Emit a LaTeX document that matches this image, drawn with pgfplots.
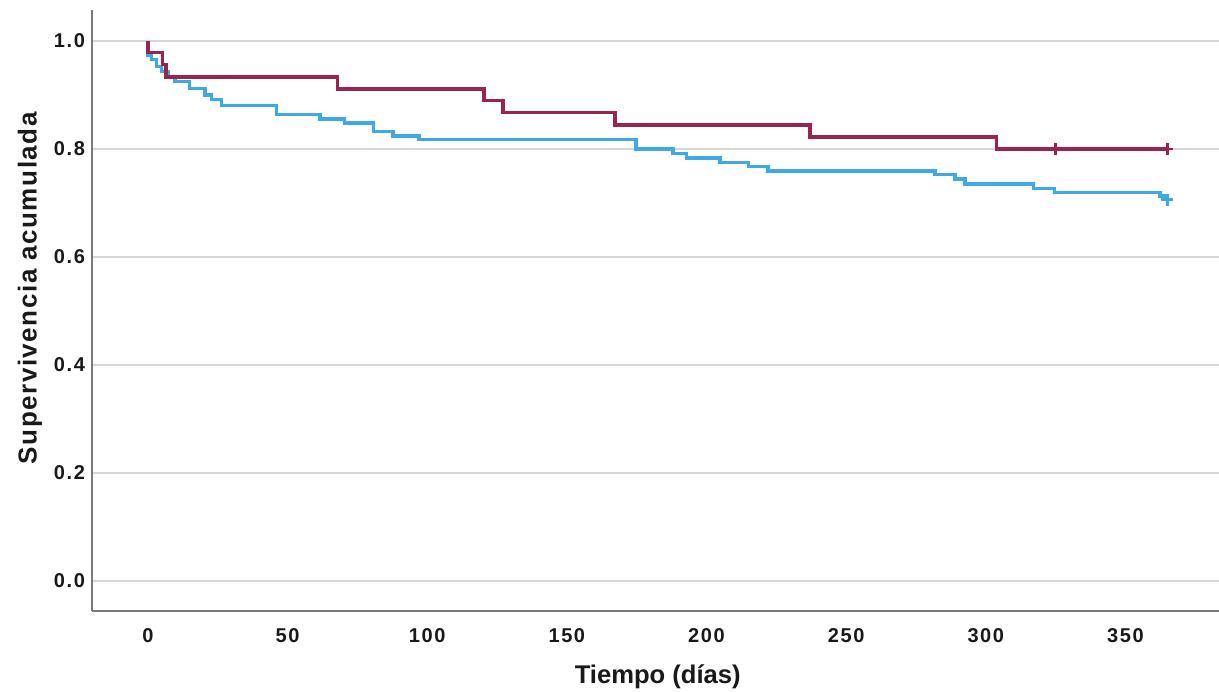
\documentclass[border=0pt]{standalone}
\usepackage{fontspec}
\setmainfont{Liberation Sans}
\newfontfamily\tickfont[LetterSpace=8]{Liberation Sans}
\newfontfamily\ylabfont[LetterSpace=6]{Liberation Sans}
\usepackage{pgfplots}
\pgfplotsset{compat=1.18}
\definecolor{kmred}{HTML}{9B2352}
\definecolor{kmblue}{HTML}{3FA9E6}
\definecolor{gridgray}{HTML}{D6D6D6}
\definecolor{axgray}{HTML}{7A7A7A}
\begin{document}
\begin{tikzpicture}
\path[use as bounding box] (-46pt,-40pt) rectangle (563.5pt,305.5pt);
\begin{axis}[
  at={(0,0)}, anchor=south west,
  scale only axis, width=563.5pt, height=300.5pt,
  xmin=-20, xmax=383.5, ymin=-0.0556, ymax=1.057,
  axis lines=left,
  axis line style={-, axgray, line width=1pt},
  xtick={0,50,...,350}, ytick={0,0.2,0.4,0.6,0.8,1.0},
  ymajorgrids,
  major grid style={gridgray, line width=1pt},
  major tick length=0pt,
  /pgf/number format/assume math mode=true,
  tick label style={font=\tickfont\bfseries\fontsize{10}{12}\selectfont, black!90},
  yticklabel style={/pgf/number format/.cd, fixed, fixed zerofill, precision=1},
  xticklabel style={yshift=-5pt},
  xlabel={Tiempo (días)},
  ylabel={Supervivencia acumulada},
  every axis x label/.style={at={([yshift=-33pt]rel axis cs:0.502,0)}, anchor=center,
    font=\bfseries\fontsize{12.8}{15}\selectfont, black!90},
  every axis y label/.style={at={([xshift=-31pt]rel axis cs:0,0.537)}, rotate=90, anchor=center,
    font=\ylabfont\bfseries\fontsize{13}{15}\selectfont, black!90},
]
% grupo azul
\addplot[kmblue, line width=1.7pt, const plot] coordinates {
  (0,1) (0,0.974) (1.3,0.965) (3.1,0.952) (4.9,0.943) (7.3,0.934) (9.7,0.925)
  (15,0.912) (20.4,0.900) (22.8,0.891) (26.4,0.880) (46,0.864) (61.6,0.855)
  (70.5,0.848) (80.7,0.832) (87.8,0.824) (97.1,0.817) (174.7,0.800) (188,0.791)
  (192.9,0.783) (204.8,0.775) (215,0.767) (222,0.759) (281.8,0.752) (289,0.744)
  (292.5,0.735) (317,0.727) (324.7,0.719) (362.4,0.713) (364.3,0.706) (365,0.706)
};
% grupo rojo
\addplot[kmred, line width=1.7pt, const plot] coordinates {
  (0,1) (0,0.978) (5.3,0.956) (6.5,0.933) (68,0.911) (120.3,0.889) (127.2,0.867)
  (167.2,0.844) (237,0.822) (303.9,0.800) (365,0.800)
};
% censurados
\addplot[kmred, only marks, mark=+, mark size=3pt, line width=1.2pt] coordinates {(325,0.8) (365,0.8)};
\addplot[kmblue, only marks, mark=+, mark size=3pt, line width=1.2pt] coordinates {(365,0.706)};
\end{axis}
\end{tikzpicture}
\end{document}
